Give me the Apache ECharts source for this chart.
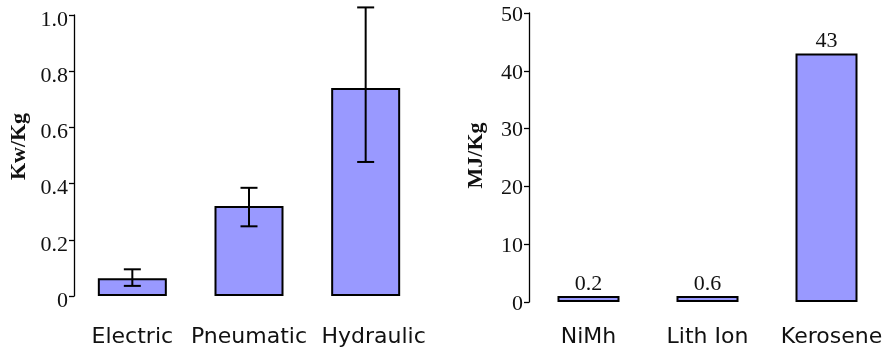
<!DOCTYPE html>
<html>
<head>
<meta charset="utf-8">
<script src="https://cdn.jsdelivr.net/npm/echarts@6/dist/echarts.min.js"></script>
<style>
  html, body { margin: 0; padding: 0; background: #fff; }
  #chart { width: 890px; height: 349px; }
</style>
</head>
<body>
<div id="chart"></div>
<script>
// Power density of actuator types (with spread)
const actuators = ['Electric', 'Pneumatic', 'Hydraulic'];
const powerDensity = [0.063, 0.32, 0.74];
const powerLow = [0.036, 0.248, 0.477];
const powerHigh = [0.095, 0.385, 1.027];
const powerTicks = ['0', '0.2', '0.4', '0.6', '0.8', '1.0'];

// Energy density of storage media
const storage = ['NiMh', 'Lith Ion', 'Kerosene'];
const energyDensity = [0.2, 0.6, 43];
const energyTicks = ['0', '10', '20', '30', '40', '50'];

const serif = '"Liberation Serif", "Times New Roman", serif';
const sans = '"DejaVu Sans", Verdana, sans-serif';
const ink = '#111';
const barFill = '#9999ff';

const chart = echarts.init(document.getElementById('chart'), null, { renderer: 'canvas' });

// labelDrop: pushes tick labels a little below their ticks
function valueAxis(gridIndex, max, interval, name, ticks, nameGap, namePad, labelDrop) {
  return {
    type: 'value', gridIndex, min: 0, max, interval,
    name, nameLocation: 'middle', nameGap,
    nameTextStyle: { fontFamily: serif, fontWeight: 'bold', fontSize: 22, color: ink, padding: namePad },
    axisLine: { show: true, lineStyle: { color: '#000', width: 1.3 } },
    axisTick: { show: true, length: 5, lineStyle: { color: '#000', width: 1.3 } },
    axisLabel: {
      color: ink, margin: 6,
      formatter: (v, i) => '{t|' + ticks[i] + '}',
      rich: {
        t: { fontFamily: serif, fontSize: 22, color: ink, padding: [labelDrop * 2, 0, 0, 0] }
      }
    },
    splitLine: { show: false }
  };
}

// category labels; a left pad nudges a label sideways under its bar
function categoryAxis(gridIndex, names, pads, margin) {
  return {
    type: 'category', gridIndex,
    data: names.map((n, i) => ({ value: n, textStyle: { padding: [0, 0, 0, pads[i]] } })),
    axisLine: { show: false }, axisTick: { show: false },
    axisLabel: { fontFamily: sans, fontSize: 22, color: ink, margin, interval: 0 }
  };
}

chart.setOption({
  animation: false,
  grid: [
    { left: 74, top: 15, width: 350, height: 281 },
    { left: 529, top: 13, width: 357, height: 289 }
  ],
  xAxis: [
    categoryAxis(0, actuators, [0, 0, 16], 30),
    categoryAxis(1, storage, [0, 0, 10], 24)
  ],
  yAxis: [
    valueAxis(0, 1, 0.2, 'Kw/Kg', powerTicks, 44, [0, 0, 0, 18], 5),
    valueAxis(1, 50, 10, 'MJ/Kg', energyTicks, 42, [0, 0, 0, 4], 2)
  ],
  series: [
    {
      type: 'bar', xAxisIndex: 0, yAxisIndex: 0,
      data: powerDensity, barWidth: 69,
      itemStyle: { color: barFill, borderColor: '#000', borderWidth: 2 }
    },
    {
      type: 'custom', xAxisIndex: 0, yAxisIndex: 0, clip: false, z: 5,
      data: actuators.map((c, i) => [i, powerLow[i], powerHigh[i]]),
      renderItem(params, api) {
        const lo = api.coord([api.value(0), api.value(1)]);
        const hi = api.coord([api.value(0), api.value(2)]);
        const half = 8.5;
        const st = { stroke: '#000', lineWidth: 2 };
        return {
          type: 'group',
          children: [
            { type: 'line', shape: { x1: lo[0], y1: lo[1], x2: hi[0], y2: hi[1] }, style: st },
            { type: 'line', shape: { x1: lo[0] - half, y1: lo[1], x2: lo[0] + half, y2: lo[1] }, style: st },
            { type: 'line', shape: { x1: hi[0] - half, y1: hi[1], x2: hi[0] + half, y2: hi[1] }, style: st }
          ]
        };
      }
    },
    {
      type: 'bar', xAxisIndex: 1, yAxisIndex: 1,
      data: energyDensity, barWidth: 62, barMinHeight: 6,
      itemStyle: { color: barFill, borderColor: '#000', borderWidth: 2 },
      label: {
        show: true, position: 'top', distance: 1,
        fontFamily: serif, fontSize: 22, color: ink
      }
    }
  ]
});
</script>
</body>
</html>
